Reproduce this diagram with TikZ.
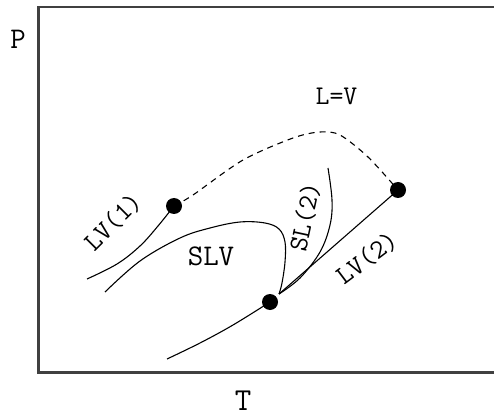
\documentclass[tikz,border=0pt]{standalone}
\begin{document}
\begin{tikzpicture}[x=1pt,y=-1pt,
  curve/.style={line width=1.1pt},
  dot/.style={circle,fill=black,inner sep=0pt,minimum size=16pt},
  lbl/.style={inner sep=0pt,font=\ttfamily\fontsize{27}{27}\selectfont},
  axislbl/.style={inner sep=0pt,font=\ttfamily\fontsize{30}{30}\selectfont}]
\useasboundingbox[fill=white] (0,0) rectangle (494,419);
\draw[line width=2.5pt, black!75] (494,7) -- (38.5,7) -- (38.5,372.5) -- (494,372.5);
\node[axislbl] (P) at (18,39) {P};
\node[axislbl,font=\ttfamily\fontsize{32}{32}\selectfont] (T) at (243,401) {T};
\node[dot] (d1) at (174,206) {};
\node[dot] (d2) at (398,190) {};
\node[dot] (d3) at (270,302) {};
\coordinate (lv1s) at (87,279);
\coordinate (slvs) at (105,292);
\coordinate (sl2s) at (328,168);
\coordinate (lows) at (167,359);
\coordinate (conv) at (279,294);
% LV(1)
\draw[curve] plot[smooth,tension=0.6] coordinates {(lv1s) (117,264) (140,246) (158,226) (d1.center)};
% L=V dashed
\draw[curve,dash pattern=on 6pt off 5pt] plot[smooth] coordinates {(d1.center) (193,195) (243,160) (293,138) (320,132) (340,135) (368,157) (d2.center)};
% SLV
\draw[curve] plot[smooth,tension=0.6] coordinates {(slvs) (140,261) (180,238) (210,228) (240,222) (265,223) (279,229) (285,242) (285,262) (282,283) (conv)};
% SL(2)
\draw[curve] plot[smooth,tension=0.6] coordinates {(sl2s) (332,200) (330,225) (320,252) (300,278) (conv)};
% LV(2)
\draw[curve] (conv) -- (d2.center);
% lower
\draw[curve] plot[smooth,tension=0.6] coordinates {(lows) (200,343) (233,325) (d3.center)};
% labels
\node[lbl,rotate=45] (lLV1) at (113,222) {LV(1)};
\node[lbl,font=\ttfamily\fontsize{30}{30}\selectfont] (lSLV) at (211,256) {SLV};
\node[lbl,rotate=78] (lSL2) at (305,217) {SL(2)};
\node[lbl,rotate=37] (lLV2) at (367,258) {LV(2)};
\node[lbl] (lLV) at (336.5,96.5) {L=V};
\end{tikzpicture}
\end{document}
